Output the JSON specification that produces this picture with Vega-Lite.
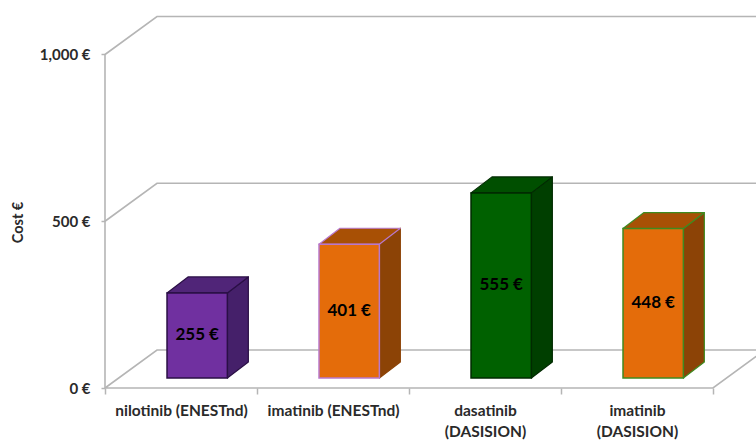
{
  "$schema": "https://vega.github.io/schema/vega-lite/v6.json",
  "description": "Cost per drug regimen drawn as box-shaped columns standing on a three-dimensional floor.",
  "width": 651,
  "height": 383,
  "autosize": {"type": "none"},
  "padding": {"left": 105, "top": 5, "right": 0, "bottom": 54},
  "background": "white",
  "config": {"view": {"stroke": null}, "font": "Lato"},
  "params": [
    {"name": "wallDepthX", "expr": "0.342"},
    {"name": "wallDepthY", "expr": "113.9"},
    {"name": "barDepthX", "expr": "0.138"},
    {"name": "barDepthY", "expr": "48"},
    {"name": "floorInset", "expr": "30"},
    {"name": "barStart", "expr": "0.408"},
    {"name": "barWidth", "expr": "0.397"}
  ],
  "datasets": {
    "costs": [
      {"regimen": "nilotinib (ENESTnd)", "cost": 255},
      {"regimen": "imatinib (ENESTnd)", "cost": 401},
      {"regimen": "dasatinib (DASISION)", "cost": 555},
      {"regimen": "imatinib (DASISION)", "cost": 448}
    ],
    "frame": [
      {"edge": "floor", "level": 0, "step": 0, "across": 0, "depth": 0},
      {"edge": "floor", "level": 0, "step": 1, "across": 0, "depth": 1},
      {"edge": "floor", "level": 0, "step": 2, "across": 4, "depth": 1},
      {"edge": "floor", "level": 0, "step": 3, "across": 4, "depth": 0},
      {"edge": "floor", "level": 0, "step": 4, "across": 0, "depth": 0},
      {"edge": "mid", "level": 500, "step": 0, "across": 0, "depth": 0},
      {"edge": "mid", "level": 500, "step": 1, "across": 0, "depth": 1},
      {"edge": "mid", "level": 500, "step": 2, "across": 4, "depth": 1},
      {"edge": "high", "level": 1000, "step": 0, "across": 0, "depth": 0},
      {"edge": "high", "level": 1000, "step": 1, "across": 0, "depth": 1},
      {"edge": "high", "level": 1000, "step": 2, "across": 4, "depth": 1},
      {"edge": "spine", "level": 0, "step": 0, "across": 0, "depth": 0},
      {"edge": "spine", "level": 1000, "step": 1, "across": 0, "depth": 0}
    ]
  },
  "data": {"name": "costs"},
  "transform": [
    {"window": [{"op": "row_number", "as": "rank"}]},
    {"calculate": "datum.rank - 1 + barStart", "as": "left"},
    {"calculate": "datum.left + barWidth", "as": "right"},
    {"calculate": "datum.cost + floorInset", "as": "top"}
  ],
  "layer": [
    {
      "data": {"name": "frame"},
      "transform": [
        {"calculate": "datum.across + datum.depth * wallDepthX", "as": "px"},
        {"calculate": "datum.level + datum.depth * wallDepthY", "as": "py"}
      ],
      "mark": {"type": "line", "color": "#b5b5b5", "strokeWidth": 1.6},
      "encoding": {
        "x": {
          "field": "px",
          "type": "quantitative",
          "scale": {"domain": [0, 4.2829], "nice": false, "zero": false},
          "axis": {
            "values": [0, 0.5, 1, 1.5, 2, 2.5, 3, 3.5, 4],
            "title": null,
            "grid": false,
            "domain": false,
            "tickColor": "#b5b5b5",
            "tickWidth": 1.5,
            "tickSize": 6,
            "tickOpacity": {"expr": "datum.value % 1 == 0 ? 1 : 0"},
            "labelExpr": "datum.value == 0.5 ? 'nilotinib (ENESTnd)' : datum.value == 1.5 ? 'imatinib (ENESTnd)' : datum.value == 2.5 ? ['dasatinib', '(DASISION)'] : datum.value == 3.5 ? ['imatinib', '(DASISION)'] : ''",
            "labelFont": "Lato",
            "labelFontWeight": "bold",
            "labelFontSize": 15.5,
            "labelColor": "#2a2a2a",
            "labelPadding": 9,
            "labelLineHeight": 21,
            "labelOverlap": false,
            "labelFlush": false,
            "labelBound": false
          }
        },
        "y": {
          "field": "py",
          "type": "quantitative",
          "scale": {"domain": [0, 1148.4], "nice": false},
          "axis": {
            "values": [0, 500, 1000],
            "title": "Cost €",
            "titleFont": "Lato",
            "titleFontWeight": "bold",
            "titleFontSize": 14.5,
            "titleColor": "#2a2a2a",
            "titleX": -80,
            "titleY": 217,
            "grid": false,
            "domain": false,
            "tickColor": "#b5b5b5",
            "tickWidth": 1.5,
            "tickSize": 4,
            "labelExpr": "format(datum.value, ',') + ' €'",
            "labelFont": "Lato",
            "labelFontWeight": "bold",
            "labelFontSize": 15,
            "labelColor": "#2a2a2a",
            "labelPadding": 11
          }
        },
        "detail": {"field": "edge"},
        "order": {"field": "step"}
      }
    },
    {
      "transform": [
        {"calculate": "[0, 1]", "as": "corner"},
        {"flatten": ["corner"]},
        {"calculate": "datum.right + datum.corner * barDepthX", "as": "px"},
        {"calculate": "datum.top + datum.corner * barDepthY", "as": "py"},
        {"calculate": "floorInset + datum.corner * barDepthY", "as": "py2"}
      ],
      "mark": {"type": "area", "strokeWidth": 1.2, "strokeJoin": "round"},
      "encoding": {
        "x": {"field": "px", "type": "quantitative", "scale": {"domain": [0, 4.2829], "nice": false, "zero": false}},
        "y": {"field": "py", "type": "quantitative", "scale": {"domain": [0, 1148.4], "nice": false}},
        "y2": {"field": "py2"},
        "fill": {
          "field": "regimen",
          "type": "nominal",
          "legend": null,
          "scale": {
            "domain": ["nilotinib (ENESTnd)", "imatinib (ENESTnd)", "dasatinib (DASISION)", "imatinib (DASISION)"],
            "range": ["#45206a", "#8c4306", "#003f00", "#8c4306"]
          }
        },
        "stroke": {
          "field": "regimen",
          "type": "nominal",
          "legend": null,
          "scale": {
            "domain": ["nilotinib (ENESTnd)", "imatinib (ENESTnd)", "dasatinib (DASISION)", "imatinib (DASISION)"],
            "range": ["#2a0f45", "#8c4306", "#012a01", "#3f8a20"]
          }
        }
      }
    },
    {
      "transform": [
        {"calculate": "[0, 1, 2, 3]", "as": "corner"},
        {"flatten": ["corner"]},
        {"calculate": "[datum.left, datum.left + barDepthX, datum.right, datum.right + barDepthX][datum.corner]", "as": "px"},
        {"calculate": "datum.top + (datum.corner == 0 ? 0 : barDepthY)", "as": "py"},
        {"calculate": "datum.top + (datum.corner == 3 ? barDepthY : 0)", "as": "py2"}
      ],
      "mark": {"type": "area", "strokeWidth": 1.2, "strokeJoin": "round"},
      "encoding": {
        "x": {"field": "px", "type": "quantitative", "scale": {"domain": [0, 4.2829], "nice": false, "zero": false}},
        "y": {"field": "py", "type": "quantitative", "scale": {"domain": [0, 1148.4], "nice": false}},
        "y2": {"field": "py2"},
        "fill": {
          "field": "regimen",
          "type": "nominal",
          "legend": null,
          "scale": {
            "domain": ["nilotinib (ENESTnd)", "imatinib (ENESTnd)", "dasatinib (DASISION)", "imatinib (DASISION)"],
            "range": ["#502578", "#a85005", "#004f00", "#a85005"]
          }
        },
        "stroke": {
          "field": "regimen",
          "type": "nominal",
          "legend": null,
          "scale": {
            "domain": ["nilotinib (ENESTnd)", "imatinib (ENESTnd)", "dasatinib (DASISION)", "imatinib (DASISION)"],
            "range": ["#2a0f45", "#b878cc", "#012a01", "#3f8a20"]
          }
        }
      }
    },
    {
      "mark": {"type": "rect", "strokeWidth": 1.5, "yOffset": -10, "y2Offset": -10},
      "encoding": {
        "x": {"field": "left", "type": "quantitative", "scale": {"domain": [0, 4.2829], "nice": false, "zero": false}},
        "x2": {"field": "right"},
        "y": {"field": "cost", "type": "quantitative", "scale": {"domain": [0, 1148.4], "nice": false}},
        "y2": {"datum": 0},
        "fill": {
          "field": "regimen",
          "type": "nominal",
          "legend": null,
          "scale": {
            "domain": ["nilotinib (ENESTnd)", "imatinib (ENESTnd)", "dasatinib (DASISION)", "imatinib (DASISION)"],
            "range": ["#7030a0", "#e46c0a", "#006100", "#e46c0a"]
          }
        },
        "stroke": {
          "field": "regimen",
          "type": "nominal",
          "legend": null,
          "scale": {
            "domain": ["nilotinib (ENESTnd)", "imatinib (ENESTnd)", "dasatinib (DASISION)", "imatinib (DASISION)"],
            "range": ["#2a0f45", "#b878cc", "#012a01", "#3f8a20"]
          }
        }
      }
    },
    {
      "transform": [
        {"calculate": "(datum.left + datum.right) / 2", "as": "mid"},
        {"calculate": "datum.cost / 2 + floorInset", "as": "labelY"},
        {"calculate": "datum.cost + ' €'", "as": "costLabel"}
      ],
      "mark": {"type": "text", "font": "Lato", "fontWeight": "bold", "fontSize": 17, "color": "#000000", "align": "center", "baseline": "middle"},
      "encoding": {
        "x": {"field": "mid", "type": "quantitative", "scale": {"domain": [0, 4.2829], "nice": false, "zero": false}},
        "y": {"field": "labelY", "type": "quantitative", "scale": {"domain": [0, 1148.4], "nice": false}},
        "text": {"field": "costLabel"}
      }
    }
  ],
  "resolve": {"scale": {"fill": "independent", "stroke": "independent"}}
}
